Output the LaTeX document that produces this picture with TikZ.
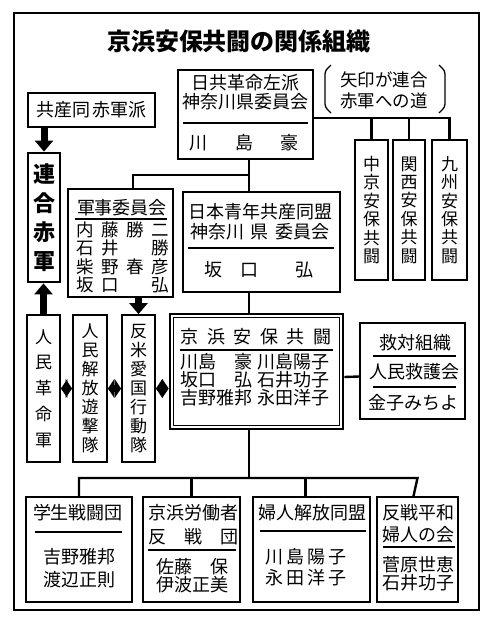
\documentclass[tikz,border=0pt]{standalone}
\usepackage{fontspec}
\setmainfont{Noto Sans CJK JP}
\usetikzlibrary{arrows.meta}

\newcommand{\jfont}[2]{\fontsize{#1}{#2}\selectfont\lineskiplimit=-100pt}
\newcommand{\gcell}[1]{\makebox[25pt]{#1}}

\begin{document}
\begin{tikzpicture}[x=1pt,y=-1pt]
    \tikzstyle{box} = [rectangle, draw=black, line width=1.8pt, inner sep=0pt]
    \tikzstyle{txt} = [inner sep=0pt, align=center, font=\jfont{18}{20}]
    \tikzstyle{tate} = [box, align=center, font=\jfont{17}{18.4}]
    \tikzstyle{rule} = [line width=1.4pt]
    \tikzstyle{conn} = [line width=2.4pt]
    \tikzstyle{arrow} = [line width=7pt, -{Triangle[width=18pt,length=11pt]}]
    \tikzstyle{darrow} = [line width=7pt, {Triangle[width=19pt,length=6.5pt]}-{Triangle[width=19pt,length=6.5pt]}]

    \useasboundingbox (0,0) rectangle (491,625);
    \draw[line width=2pt] (14,13) rectangle (479,610);

    \node (title) [inner sep=0pt, font=\jfont{24}{24}\bfseries] at (239,41) {京浜安保共闘の関係組織};

    % top row
    \node (sekigun) [box, txt, draw, line width=1.8pt, minimum width=127pt, minimum height=34pt] at (91.5,110) {共産同\,赤軍派};
    \node (rengo) [box, line width=2.8pt, align=center, minimum width=32pt, minimum height=129pt, font=\jfont{22}{29}\bfseries] at (44,217.5) {連\\合\\赤\\軍};

    \node (nikkyo) [box, minimum width=135pt, minimum height=89pt] at (245.5,114.5) {};
    \node (nikkyo-name) [txt, font=\jfont{18}{18.5}] at (245.5,92) {日共革命左派\\神奈川県委員会};
    \draw[rule] (183,123) -- (308,123);
    \node (kawashima) [txt] at (244,143) {川\hspace{29pt}島\hspace{27pt}豪};

    \node (note) [txt, font=\jfont{17.5}{21}] at (384,90.5) {矢印が連合\\赤軍への道};
    \draw[line width=1.3pt, rounded corners=3pt] (331,65) -- (325,71) -- (325,107) -- (331,113);
    \draw[line width=1.3pt, rounded corners=3pt] (439,65) -- (445,71) -- (445,107) -- (439,113);

    \node (chukyo) [tate, minimum width=33pt, minimum height=140pt] at (371.5,210) {中\\京\\安\\保\\共\\闘};
    \node (kansai) [tate, minimum width=32pt, minimum height=140pt] at (409,210) {関\\西\\安\\保\\共\\闘};
    \node (kyushu) [tate, minimum width=35pt, minimum height=140pt] at (449.5,210) {九\\州\\安\\保\\共\\闘};

    \coordinate (branch) at (0,118);
    \draw[conn] (nikkyo.east |- branch) -| (kyushu.north);
    \draw[conn] (chukyo.north |- branch) -- (chukyo.north);
    \draw[conn] (kansai.north |- branch) -- (kansai.north);

    % middle row
    \node (gunji) [box, minimum width=105pt, minimum height=108pt] at (120.5,243) {};
    \node (gunji-title) [txt] at (122,208) {軍事委員会};
    \draw[rule] (75,219) -- (167,219);
    \node (gunji-names) [txt, font=\jfont{17.5}{18.3}] at (122.5,257.5)
        {\gcell{内}\gcell{藤}\gcell{勝}\gcell{二}\\\gcell{石}\gcell{井}\gcell{}\gcell{勝}\\
         \gcell{柴}\gcell{野}\gcell{春}\gcell{彦}\\\gcell{坂}\gcell{口}\gcell{}\gcell{弘}};

    \node (seinen) [box, minimum width=157pt, minimum height=100pt] at (261.5,242) {};
    \node (seinen-name) [txt] at (260,222) {日本青年共産同盟\\神奈川\hspace{7pt}県\hspace{7pt}委員会};
    \draw[rule] (188,248) -- (334,248);
    \node (sakaguchi) [txt] at (259,270) {坂\hspace{19pt}口\hspace{37pt}弘};

    \coordinate (spine) at (249,0);
    \coordinate (gbranch) at (0,175);
    \draw[conn] (nikkyo.south -| spine) -- (seinen.north -| spine);
    \draw[conn] (spine |- gbranch) -| ([xshift=12.5pt]gunji.north);

    \node (keihin) [box, line width=2.6pt, minimum width=173pt, minimum height=115pt] at (256.5,371.5) {};
    \draw[line width=1.1pt] ([shift={(4.5,4.5)}]keihin.north west) rectangle ([shift={(-4.5,-4.5)}]keihin.south east);
    \node (keihin-title) [txt] at (256,337) {京\hspace{8.5pt}浜\hspace{8.5pt}安\hspace{8.5pt}保\hspace{8.5pt}共\hspace{8.5pt}闘};
    \draw[line width=1.8pt] (180,350) -- (333,350);
    \node (keihin-names) [txt, font=\jfont{18}{18}] at (255,380)
        {川島　豪\hspace{5pt}川島陽子\\坂口　弘\hspace{5pt}石井功子\\吉野雅邦\hspace{5pt}永田洋子};
    \draw[conn] (seinen.south -| spine) -- (keihin.north -| spine);

    \node (kyutai) [box, minimum width=105pt, minimum height=96pt] at (412.5,371) {};
    \node (kyutai-t1) [txt] at (415,343) {救対組織};
    \draw[rule] (373,356) -- (456,356);
    \node (kyutai-t2) [txt] at (414,372) {人民救護会};
    \draw[rule] (373,387) -- (456,387);
    \node (kyutai-t3) [txt] at (413,403) {金子みちよ};
    \draw[conn] ([yshift=-5.5pt]keihin.east) -- ([yshift=-5.5pt]kyutai.west);

    \node (jinmin) [tate, font=\jfont{17}{25.75}, minimum width=33pt, minimum height=147pt] at (43.5,388.5) {人\\民\\革\\命\\軍};
    \node (kaiho) [tate, font=\jfont{17}{19}, minimum width=34pt, minimum height=147pt] at (90,388.5) {人\\民\\解\\放\\遊\\撃\\隊};
    \node (hanbei) [tate, font=\jfont{17}{19}, minimum width=33pt, minimum height=147pt] at (138.5,388.5) {反\\米\\愛\\国\\行\\動\\隊};

    \draw[arrow] (rengo.north |- sekigun.south) -- (rengo.north);
    \draw[arrow] (jinmin.north) -- (jinmin.north |- rengo.south);
    \draw[arrow] (hanbei.north |- gunji.south) -- (hanbei.north);
    \draw[darrow] (jinmin.east) -- (kaiho.west);
    \draw[darrow] (kaiho.east) -- (hanbei.west);
    \draw[darrow] (hanbei.east) -- (keihin.west |- hanbei.east);

    % bottom row
    \node (gakusei) [box, minimum width=106pt, minimum height=105pt] at (79,549.5) {};
    \node (gakusei-t1) [txt] at (78,513) {学生戦闘団};
    \draw[rule] (35,532) -- (122,532);
    \node (gakusei-t2) [txt, font=\jfont{18}{23}] at (79,568.5) {吉野雅邦\\渡辺正則};

    \node (rodo) [box, minimum width=97pt, minimum height=105pt] at (191.5,549.5) {};
    \node (rodo-t1) [txt, font=\jfont{18}{24}] at (193,525) {京浜労働者\\反　戦　団};
    \draw[rule] (148,550) -- (236,550);
    \node (rodo-t2) [txt, font=\jfont{18}{18}] at (192,576) {佐藤　保\\伊波正美};

    \node (fujin) [box, minimum width=117pt, minimum height=105pt] at (311.5,549.5) {};
    \node (fujin-t1) [txt] at (312,513) {婦人解放同盟};
    \draw[rule] (260,531) -- (366,531);
    \node (fujin-t2) [txt, font=\jfont{18}{21}] at (306,567.5) {川\hspace{3pt}島\hspace{3pt}陽\hspace{3pt}子\\永\hspace{3pt}田\hspace{3pt}洋\hspace{3pt}子};

    \node (hansen) [box, minimum width=81pt, minimum height=105pt] at (417.5,549.5) {};
    \node (hansen-t1) [txt, font=\jfont{18}{22}] at (418,524) {反戦平和\\婦人の会};
    \draw[rule] (383,547) -- (455,547);
    \node (hansen-t2) [txt, font=\jfont{18}{18}] at (418,574) {菅原世恵\\石井功子};

    \coordinate (bbranch) at (0,478);
    \draw[conn] (keihin.south -| spine) -- (spine |- bbranch);
    \draw[conn] (gakusei.north) |- (bbranch -| hansen.north) -- ([xshift=-4pt]hansen.north);
    \draw[conn] (rodo.north) -- (rodo.north |- bbranch);
    \draw[conn] ([xshift=-6pt]fujin.north) -- ([xshift=-6pt]fujin.north |- bbranch);
\end{tikzpicture}
\end{document}
